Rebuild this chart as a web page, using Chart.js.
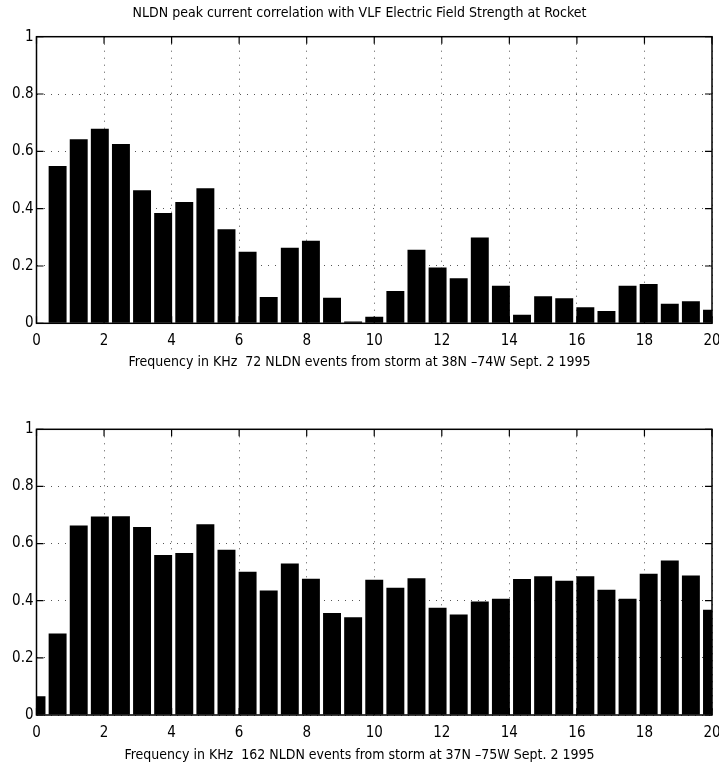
<!DOCTYPE html>
<html>
<head>
<meta charset="utf-8">
<script src="https://cdn.jsdelivr.net/npm/chart.js@4.4.1/dist/chart.umd.min.js"></script>
<style>
  html, body { margin: 0; padding: 0; background: #fff; }
  #wrap { position: relative; width: 719px; height: 765px; }
  canvas { position: absolute; left: 0; }
  #topChart { top: 0; }
  #bottomChart { top: 390px; }
</style>
</head>
<body>
<div id="wrap">
  <canvas id="topChart" width="719" height="390"></canvas>
  <canvas id="bottomChart" width="719" height="375"></canvas>
</div>
<script>
// FFT bin centres (kHz), 0.625 kHz spacing
const freqKHz = [0, 0.625, 1.25, 1.875, 2.5, 3.125, 3.75, 4.375, 5, 5.625, 6.25,
  6.875, 7.5, 8.125, 8.75, 9.375, 10, 10.625, 11.25, 11.875, 12.5, 13.125, 13.75,
  14.375, 15, 15.625, 16.25, 16.875, 17.5, 18.125, 18.75, 19.375, 20];

// storm at 38N -74W, 72 events
const corrStorm1 = [0, 0.549, 0.642, 0.679, 0.626, 0.464, 0.385, 0.423, 0.471, 0.328,
  0.25, 0.092, 0.264, 0.288, 0.089, 0.006, 0.023, 0.113, 0.257, 0.195, 0.157, 0.299,
  0.131, 0.03, 0.094, 0.087, 0.056, 0.043, 0.131, 0.137, 0.068, 0.077, 0.047];

// storm at 37N -75W, 162 events
const corrStorm2 = [0.066, 0.285, 0.663, 0.695, 0.696, 0.658, 0.56, 0.567, 0.668, 0.578,
  0.501, 0.436, 0.53, 0.477, 0.357, 0.342, 0.473, 0.445, 0.479, 0.375, 0.352, 0.397,
  0.407, 0.476, 0.486, 0.47, 0.486, 0.438, 0.407, 0.494, 0.541, 0.488, 0.368];

const xTicks = [0, 2, 4, 6, 8, 10, 12, 14, 16, 18, 20];
const yTicks = [0, 0.2, 0.4, 0.6, 0.8, 1];

const mainTitle = "NLDN peak current correlation with VLF Electric Field Strength at Rocket";
const xLabel1 = "Frequency in KHz  72 NLDN events from storm at 38N \u201374W Sept. 2 1995";
const xLabel2 = "Frequency in KHz  162 NLDN events from storm at 37N \u201375W Sept. 2 1995";

const FONT = "'Liberation Sans Narrow', 'DejaVu Sans Condensed', Arial, sans-serif";

// matlab-ish axes box with inward tick marks
const frame = {
  id: "frame",
  afterDatasetsDraw(chart) {
    const { ctx, chartArea: a, scales: { x, y } } = chart;
    ctx.save();
    ctx.strokeStyle = "#000";
    ctx.lineWidth = 1.5;
    ctx.strokeRect(a.left, a.top, a.right - a.left, a.bottom - a.top);
    ctx.lineWidth = 1.2;
    ctx.beginPath();
    xTicks.forEach((v) => {
      const px = x.getPixelForValue(v);
      ctx.moveTo(px, a.bottom);
      ctx.lineTo(px, a.bottom - 7);
      ctx.moveTo(px, a.top);
      ctx.lineTo(px, a.top + 7);
    });
    yTicks.forEach((v) => {
      const py = y.getPixelForValue(v);
      ctx.moveTo(a.left, py);
      ctx.lineTo(a.left + 7, py);
      ctx.moveTo(a.right, py);
      ctx.lineTo(a.right - 7, py);
    });
    ctx.stroke();
    ctx.restore();
  },
};

const makePanel = (canvasId, values, opts) => {
  return new Chart(document.getElementById(canvasId), {
    type: "bar",
    data: {
      labels: freqKHz,
      datasets: [
        {
          data: values,
          backgroundColor: "#000",
          borderWidth: 0,
          barPercentage: 0.85,
          categoryPercentage: 1,
          clip: 0,
        },
      ],
    },
    plugins: [frame],
    options: {
      responsive: false,
      animation: false,
      layout: { padding: { top: opts.padTop, left: 0, right: 0, bottom: 0 } },
      plugins: {
        legend: { display: false },
        tooltip: { enabled: false },
        title: {
          display: !!opts.title,
          text: opts.title || "",
          color: "#000",
          font: { family: FONT, size: 14, weight: "normal" },
          padding: { top: 4.6, bottom: 15.3 },
        },
        subtitle: {
          display: true,
          position: "bottom",
          text: opts.xLabel,
          color: "#000",
          font: { family: FONT, size: 14, weight: "normal" },
          padding: { top: 0, bottom: opts.subPad },
        },
      },
      scales: {
        x: {
          type: "linear",
          min: 0,
          max: 20,
          offset: false,
          afterBuildTicks: (scale) => {
            scale.ticks = xTicks.map((v) => ({ value: v }));
          },
          afterFit: (scale) => {
            scale.height = opts.xHeight;
            scale.paddingLeft = 0;
            scale.paddingRight = 7;
          },
          ticks: {
            color: "#000",
            padding: 9,
            maxRotation: 0,
            autoSkip: false,
            font: { family: FONT, size: 15 },
          },
          grid: { color: "#555", lineWidth: 1, drawTicks: false, offset: false },
          border: { display: false, dash: [1, 6] },
        },
        y: {
          min: 0,
          max: 1,
          afterBuildTicks: (scale) => {
            scale.ticks = yTicks.map((v) => ({ value: v }));
          },
          afterFit: (scale) => {
            scale.width = 36.5;
          },
          ticks: {
            color: "#000",
            padding: 3,
            font: { family: FONT, size: 15 },
            callback: (v) => String(+Number(v).toFixed(1)),
          },
          grid: { color: "#555", lineWidth: 1, drawTicks: false },
          border: { display: false, dash: [1, 6] },
        },
      },
    },
  });
};

const topChart = makePanel("topChart", corrStorm1, {
  title: mainTitle,
  xLabel: xLabel1,
  padTop: 0,
  subPad: 19.3,
  xHeight: 30.6,
});

const bottomChart = makePanel("bottomChart", corrStorm2, {
  xLabel: xLabel2,
  padTop: 39.3,
  subPad: 1.1,
  xHeight: 32.1,
});
</script>
</body>
</html>
